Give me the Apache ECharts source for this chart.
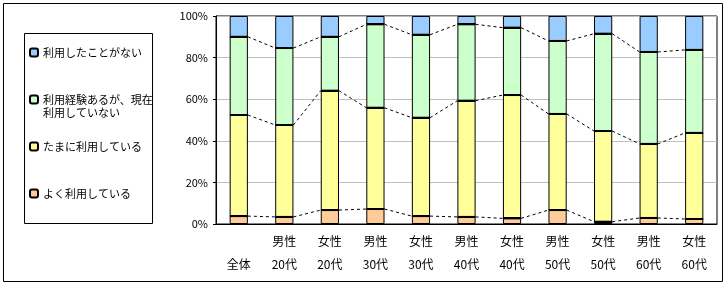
<!DOCTYPE html>
<html>
<head>
<meta charset="utf-8">
<script src="https://cdn.jsdelivr.net/npm/echarts@6/dist/echarts.min.js"></script>
<style>
html,body{margin:0;padding:0;background:#fff;}
#chart{width:726px;height:286px;}
</style>
</head>
<body>
<div id="chart"></div>
<script>
// カテゴリ（1行目：性別、2行目：年代）
var categories = ['\n全体', '男性\n20代', '女性\n20代', '男性\n30代', '女性\n30代', '男性\n40代', '女性\n40代', '男性\n50代', '女性\n50代', '男性\n60代', '女性\n60代'];
// 各回答の割合（%）
var oftenUse = [3.8, 3.4, 6.7, 7.2, 3.8, 3.4, 2.7, 6.7, 1.1, 2.9, 2.4];
var sometimesUse = [48.6, 44.2, 57.4, 48.7, 47.3, 55.9, 59.3, 46.2, 43.6, 35.6, 41.4];
var pastUse = [37.6, 37.0, 25.9, 40.1, 39.9, 36.7, 32.4, 35.1, 46.8, 44.2, 39.9];
var neverUse = [10.0, 15.4, 10.0, 4.0, 9.0, 4.0, 5.6, 12.0, 8.5, 17.3, 16.3];
var yTicks = [0, 20, 40, 60, 80, 100];

var names = ['よく利用している', 'たまに利用している', '利用経験あるが、現在利用していない', '利用したことがない'];
var colors = ['#FFCC99', '#FFFF99', '#CCFFCC', '#99CCFF'];
var values = [oftenUse, sometimesUse, pastUse];

// 区分線（系列線）用データ：[i, 下段累計i, 下段累計i+1, ...]
var lineData = [];
for (var i = 0; i < categories.length - 1; i++) {
	var row = [i];
	var c0 = 0, c1 = 0;
	for (var k = 0; k < values.length; k++) {
		c0 += values[k][i];
		c1 += values[k][i + 1];
		row.push(c0, c1);
	}
	lineData.push(row);
}

var font = '"Noto Sans CJK JP", sans-serif';
var chart = echarts.init(document.getElementById('chart'));

var series = [oftenUse, sometimesUse, pastUse, neverUse].map(function (d, idx) {
	return {
		name: names[idx],
		type: 'bar',
		stack: 'total',
		barWidth: '40%',
		data: d,
		itemStyle: {color: colors[idx], borderColor: '#000', borderWidth: 1},
		emphasis: {disabled: true}
	};
});
series.push({
	type: 'custom',
	coordinateSystem: 'cartesian2d',
	data: lineData,
	encode: {x: 0, y: 1},
	z: 5,
	silent: true,
	renderItem: function (params, api) {
		var i = api.value(0);
		var half = api.size([1, 0])[0] * 0.2;
		var children = [];
		var last = params.dataIndex === lineData.length - 1;
		for (var k = 0; k < 3; k++) {
			var p1 = api.coord([i, api.value(1 + k * 2)]);
			var p2 = api.coord([i + 1, api.value(2 + k * 2)]);
			// 系列線（点線）
			children.push({
				type: 'line',
				shape: {x1: p1[0] + half, y1: p1[1], x2: p2[0] - half, y2: p2[1]},
				style: {stroke: '#000', lineWidth: 1, lineDash: [3, 3]}
			});
			// 区切りの太線
			children.push({
				type: 'line',
				shape: {x1: p1[0] - half, y1: Math.round(p1[1]), x2: p1[0] + half, y2: Math.round(p1[1])},
				style: {stroke: '#000', lineWidth: 2}
			});
			if (last) {
				children.push({
					type: 'line',
					shape: {x1: p2[0] - half, y1: Math.round(p2[1]), x2: p2[0] + half, y2: Math.round(p2[1])},
					style: {stroke: '#000', lineWidth: 2}
				});
			}
		}
		return {type: 'group', children: children};
	}
});

function legendItem(name, top, fmt) {
	return {
		data: [name],
		orient: 'vertical',
		left: 29,
		top: top,
		padding: 0,
		itemWidth: 8,
		itemHeight: 8,
		selectedMode: false,
		formatter: fmt,
		textStyle: {fontFamily: font, fontSize: 11, color: '#000', lineHeight: 13}
	};
}

chart.setOption({
	animation: false,
	backgroundColor: '#fff',
	grid: {left: 216, right: 9, top: 16, bottom: 62, show: true, borderColor: '#000', borderWidth: 1},
	legend: [
		legendItem(names[3], 46),
		legendItem(names[2], 80, function () { return '\n利用経験あるが、現在\n利用していない'; }),
		legendItem(names[1], 140),
		legendItem(names[0], 187)
	],
	xAxis: {
		type: 'category',
		data: categories,
		axisLine: {lineStyle: {color: '#000'}},
		axisTick: {length: 48, lineStyle: {color: '#000'}},
		axisLabel: {
			interval: 0, margin: 6, color: '#000', fontFamily: font, fontSize: 12, lineHeight: 23
		}
	},
	yAxis: {
		type: 'value',
		min: yTicks[0],
		max: yTicks[yTicks.length - 1],
		interval: yTicks[1] - yTicks[0],
		axisLine: {show: true, lineStyle: {color: '#000'}},
		axisTick: {show: true, length: 3, lineStyle: {color: '#000'}},
		axisLabel: {formatter: '{value}%', color: '#000', fontFamily: font, fontSize: 11, margin: 8},
		splitLine: {lineStyle: {color: '#c0c0c0'}}
	},
	graphic: [
		{type: 'rect', silent: true, shape: {x: 3.5, y: 3.5, width: 719, height: 278}, style: {fill: 'none', stroke: '#000', lineWidth: 1}},
		{type: 'rect', silent: true, shape: {x: 24.5, y: 33.5, width: 128, height: 190}, style: {fill: 'none', stroke: '#000', lineWidth: 1}}
	],
	series: series
});
</script>
</body>
</html>
